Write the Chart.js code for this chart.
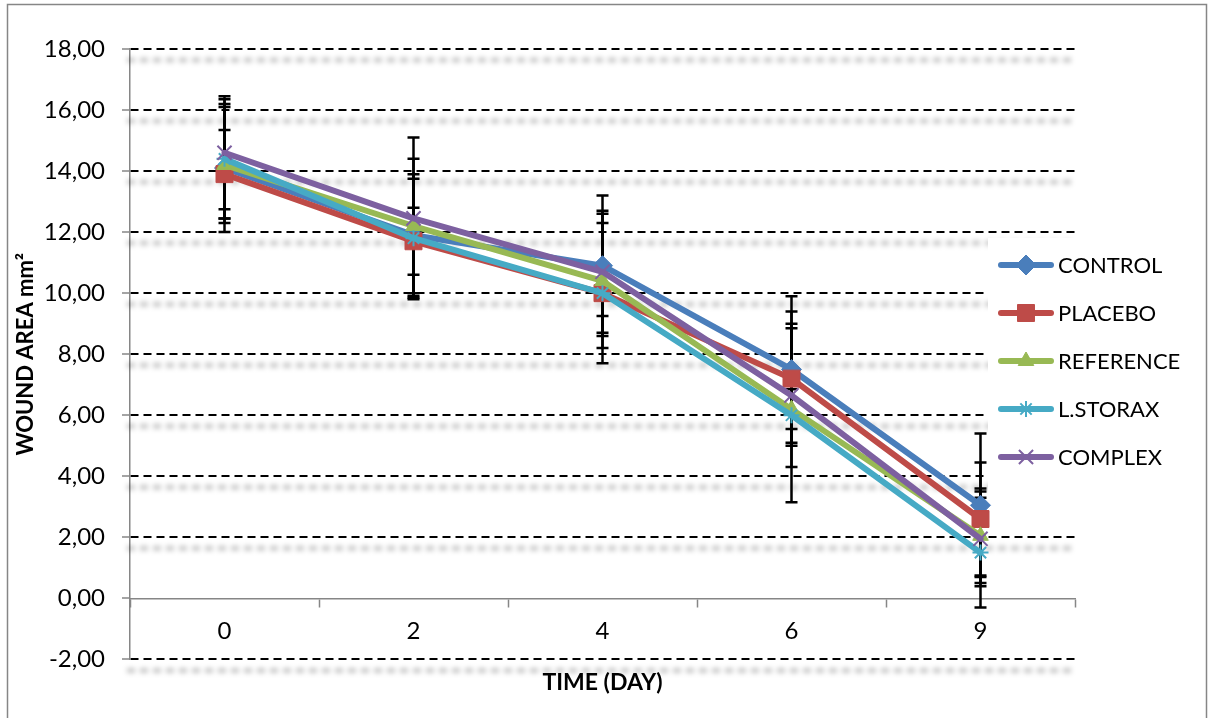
<!DOCTYPE html>
<html>
<head>
<meta charset="utf-8">
<script src="https://cdn.jsdelivr.net/npm/chart.js"></script>
<style>
  html, body { margin: 0; padding: 0; background: #fff; }
  canvas { display: block; }
</style>
</head>
<body>
<canvas id="woundChart" width="1208" height="718"></canvas>
<script>
// days of measurement
const days = ['0', '2', '4', '6', '9'];

// mean wound area (mm2) per group
const control   = [14.1, 11.9, 10.9, 7.5, 3.05];
const placebo   = [13.9, 11.7, 10.0, 7.2, 2.6];
const reference = [14.2, 12.2, 10.4, 6.2, 2.05];
const lStorax   = [14.4, 11.8, 10.0, 6.0, 1.5];
const complex   = [14.6, 12.45, 10.7, 6.65, 1.95];

// standard deviations (error bars)
const controlSd   = [2.1, 2.0, 2.3, 2.4, 2.35];
const placeboSd   = [1.45, 1.1, 2.3, 2.2, 1.85];
const referenceSd = [1.9, 2.2, 2.2, 0.65, 1.55];
const lStoraxSd   = [1.95, 1.95, 0.75, 2.85, 1.8];
const complexSd   = [1.85, 2.65, 2.0, 2.35, 1.55];

const groupNames = ['CONTROL', 'PLACEBO', 'REFERENCE', 'L.STORAX', 'COMPLEX'];

const yMin = -2, yMax = 18, yStep = 2;

Chart.defaults.font.family = 'Lato';
Chart.defaults.color = '#000';

function series(label, data, sd, color, style, radius, bw, order) {
  return {
    label: label,
    data: data,
    sd: sd,
    borderColor: color,
    backgroundColor: color,
    borderWidth: 6,
    borderCapStyle: 'round',
    borderJoinStyle: 'round',
    tension: 0,
    pointStyle: style,
    pointRadius: radius,
    pointHoverRadius: radius,
    pointBorderWidth: bw,
    pointBackgroundColor: color,
    pointBorderColor: color,
    order: order
  };
}

// soft grey shadow under each dashed grid line
const gridShadow = {
  id: 'gridShadow',
  beforeDatasetsDraw(chart) {
    const {ctx, chartArea, scales: {y}} = chart;
    ctx.save();
    ctx.filter = 'blur(2.5px)';
    ctx.strokeStyle = 'rgba(0,0,0,0.22)';
    ctx.lineWidth = 5;
    ctx.setLineDash([8, 5]);
    y.ticks.forEach(t => {
      if (t.value === 0) return;
      const py = y.getPixelForValue(t.value) + 11;
      ctx.beginPath();
      ctx.moveTo(chartArea.left - 3, py);
      ctx.lineTo(chartArea.right, py);
      ctx.stroke();
    });
    ctx.restore();
  }
};

// black error bars, drawn under the lines
const errorBars = {
  id: 'errorBars',
  beforeDatasetsDraw(chart) {
    const {ctx, scales: {y}} = chart;
    ctx.save();
    ctx.strokeStyle = '#000';
    ctx.lineWidth = 2.5;
    chart.data.datasets.forEach((ds, i) => {
      const meta = chart.getDatasetMeta(i);
      meta.data.forEach((pt, j) => {
        const top = y.getPixelForValue(ds.data[j] + ds.sd[j]);
        const bot = y.getPixelForValue(ds.data[j] - ds.sd[j]);
        ctx.beginPath();
        ctx.moveTo(pt.x, top); ctx.lineTo(pt.x, bot);
        ctx.moveTo(pt.x - 6, top); ctx.lineTo(pt.x + 6, top);
        ctx.moveTo(pt.x - 6, bot); ctx.lineTo(pt.x + 6, bot);
        ctx.stroke();
      });
    });
    ctx.restore();
  }
};

// legend box laid over the right side of the plot, plus the outer frame
const sideLegend = {
  id: 'sideLegend',
  afterDraw(chart) {
    const ctx = chart.ctx;
    ctx.save();
    ctx.fillStyle = '#fff';
    ctx.fillRect(988, 238, 212, 257);
    const x0 = 1001, x1 = 1051, top = 265, gap = 48;
    chart.data.datasets.forEach((ds, i) => {
      const yy = top + i * gap;
      ctx.strokeStyle = ds.borderColor;
      ctx.lineWidth = 6;
      ctx.lineCap = 'round';
      ctx.beginPath();
      ctx.moveTo(x0, yy); ctx.lineTo(x1, yy);
      ctx.stroke();
      ctx.fillStyle = ds.backgroundColor;
      ctx.lineWidth = ds.pointBorderWidth;
      ctx.lineCap = 'butt';
      Chart.helpers.drawPoint(ctx, {
        pointStyle: ds.pointStyle,
        radius: ds.pointRadius,
        borderWidth: ds.pointBorderWidth,
        rotation: 0
      }, (x0 + x1) / 2, yy);
      ctx.fillStyle = '#000';
      ctx.font = '22px Lato';
      ctx.textBaseline = 'middle';
      ctx.textAlign = 'left';
      ctx.fillText(ds.label, 1058, yy + 1);
    });
    ctx.strokeStyle = '#868686';
    ctx.lineWidth = 1.5;
    ctx.setLineDash([]);
    ctx.strokeRect(7.5, 4.5, 1199, 720);
    ctx.restore();
  }
};

new Chart(document.getElementById('woundChart'), {
  type: 'line',
  data: {
    labels: days,
    datasets: [
      series(groupNames[0], control,   controlSd,   '#4A7EBB', 'rectRot',  10, 1, 4),
      series(groupNames[1], placebo,   placeboSd,   '#BE4B48', 'rect',     12, 1, 3),
      series(groupNames[2], reference, referenceSd, '#98B954', 'triangle', 9,  1, 2),
      series(groupNames[3], lStorax,   lStoraxSd,   '#46AAC5', 'star',     8,  2, 1),
      series(groupNames[4], complex,   complexSd,   '#7D60A0', 'crossRot', 10, 2, 0)
    ]
  },
  options: {
    responsive: false,
    animation: false,
    events: [],
    layout: { padding: { top: 49, right: 133, bottom: 0, left: 0 } },
    plugins: {
      legend: { display: false },
      tooltip: { enabled: false },
      title: {
        display: true,
        position: 'bottom',
        fullSize: false,
        text: 'TIME (DAY)',
        font: { size: 23, weight: 'bold' },
        color: '#000',
        padding: { top: 9, bottom: 22 }
      }
    },
    scales: {
      x: {
        type: 'category',
        position: { y: 0 },
        offset: true,
        afterFit(s) { s.height = 0; },
        grid: {
          display: true,
          offset: true,
          drawOnChartArea: false,
          drawTicks: true,
          tickLength: 8,
          tickColor: '#868686',
          tickWidth: 1.5
        },
        border: { display: true, color: '#868686', width: 1.5 },
        ticks: { font: { size: 24 }, color: '#000', padding: 11, maxRotation: 0 }
      },
      y: {
        min: yMin,
        max: yMax,
        afterFit(s) { s.width = 130; },
        ticks: {
          stepSize: yStep,
          font: { size: 24 },
          color: '#000',
          padding: 17,
          callback: v => v.toFixed(2).replace('.', ',')
        },
        grid: {
          color: c => (c.tick && c.tick.value === 0) ? 'rgba(0,0,0,0)' : '#000',
          lineWidth: 2,
          tickLength: 8,
          tickColor: '#868686',
          tickWidth: 1.5,
          tickBorderDash: []
        },
        border: { display: true, color: '#868686', width: 1.5, dash: [8, 5] },
        title: {
          display: true,
          text: 'WOUND AREA mm²',
          font: { size: 22, weight: 'bold' },
          color: '#000',
          padding: { top: 13, bottom: 0 }
        }
      }
    }
  },
  plugins: [gridShadow, errorBars, sideLegend]
});
</script>
</body>
</html>
